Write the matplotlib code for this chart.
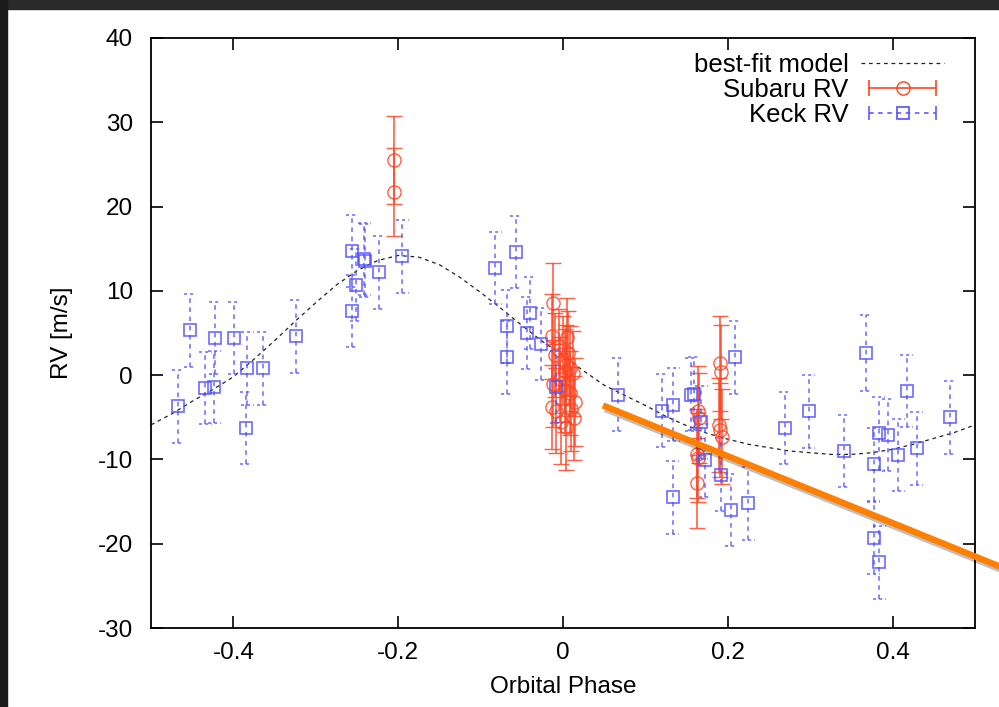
import matplotlib
matplotlib.use("Agg")
import matplotlib.pyplot as plt
import matplotlib.patheffects as pe
from matplotlib.lines import Line2D
from matplotlib.legend_handler import HandlerLine2D
from matplotlib.patches import Rectangle

plt.rcParams['font.family'] = ['Liberation Sans', 'DejaVu Sans']

# best-fit model
model_phase = [-0.500, -0.475, -0.450, -0.425, -0.400, -0.375, -0.350, -0.325,
               -0.300, -0.275, -0.250, -0.225, -0.200, -0.175, -0.150, -0.125,
               -0.100, -0.075, -0.050, -0.025, 0.000, 0.025, 0.050, 0.075,
               0.100, 0.125, 0.150, 0.175, 0.200, 0.225, 0.250, 0.275,
               0.300, 0.325, 0.350, 0.375, 0.400, 0.425, 0.450, 0.475, 0.500]
model_rv = [-5.9, -4.6, -3.1, -1.7, -0.2, 1.9, 4.1, 6.4,
            8.6, 10.7, 12.4, 13.6, 14.2, 14.0, 13.1, 11.6,
            9.8, 7.9, 5.9, 4.0, 2.3, 0.5, -1.2, -2.4,
            -3.6, -4.9, -6.0, -6.9, -7.6, -8.2, -8.6, -9.0,
            -9.2, -9.4, -9.4, -9.2, -8.8, -8.2, -7.5, -6.8, -5.9]

# Subaru RV
subaru_phase = [-0.205, -0.205,
                -0.012, -0.013, -0.010, -0.012, -0.013, -0.008, -0.005, -0.004,
                -0.003, 0.000, 0.002, 0.002, 0.004, 0.005, 0.006, 0.008,
                0.009, 0.010, 0.012, 0.013, 0.015, 0.004,
                0.164, 0.165, 0.163, 0.164, 0.163,
                0.190, 0.192, 0.189, 0.191, 0.193]
subaru_rv = [25.5, 21.7,
             8.5, 4.6, 2.4, -1.0, -3.8, -4.2, 3.0, -0.5,
             -5.6, 1.8, 0.5, -1.8, -6.2, 4.5, 2.6, 0.8,
             -2.1, -4.0, 0.2, -5.1, -3.2, 1.2,
             -4.2, -5.1, -9.3, -9.8, -12.8,
             1.4, 0.4, -5.9, -6.5, -7.3]
subaru_err = [5.2, 5.2,
              4.8, 5.0, 5.0, 5.2, 5.0, 5.0, 4.9, 5.0,
              5.0, 5.2, 5.0, 5.0, 5.0, 4.6, 5.0, 5.0,
              5.0, 5.0, 5.0, 5.0, 5.2, 4.8,
              5.3, 5.3, 5.3, 5.3, 5.3,
              5.6, 5.6, 5.6, 5.6, 5.6]

# Keck RV
keck_phase = [-0.467, -0.453, -0.434, -0.423, -0.422, -0.399, -0.385, -0.383,
              -0.364, -0.324, -0.256, -0.251, -0.256, -0.241, -0.240, -0.223,
              -0.195, -0.082, -0.068, -0.068, -0.057, -0.044, -0.040, -0.027,
              -0.008, 0.067, 0.120, 0.134, 0.133, 0.155, 0.159, 0.168,
              0.172, 0.192, 0.204, 0.209, 0.225, 0.269, 0.298, 0.341,
              0.368, 0.377, 0.383, 0.394, 0.407, 0.417, 0.429, 0.470,
              0.377, 0.384]
keck_rv = [-3.7, 5.3, -1.5, -1.4, 4.4, 4.4, -6.3, 0.8,
           0.8, 4.6, 14.7, 10.7, 7.6, 13.8, 13.6, 12.2,
           14.1, 12.7, 5.8, 2.1, 14.6, 5.0, 7.4, 3.7,
           -1.4, -2.3, -4.2, -3.5, -14.5, -2.3, -2.2, -5.6,
           -10.1, -11.8, -16.0, 2.1, -15.2, -6.3, -4.3, -9.0,
           2.6, -10.6, -6.9, -7.1, -9.5, -1.9, -8.7, -5.0,
           -19.3, -22.2]
keck_err = [4.3, 4.3, 4.3, 4.3, 4.3, 4.3, 4.3, 4.3,
            4.3, 4.3, 4.3, 4.3, 4.3, 4.3, 4.3, 4.3,
            4.3, 4.3, 4.3, 4.3, 4.3, 4.3, 4.3, 4.3,
            4.3, 4.3, 4.3, 4.3, 4.3, 4.3, 4.3, 4.3,
            4.3, 4.3, 4.3, 4.3, 4.3, 4.3, 4.3, 4.3,
            4.5, 4.3, 4.3, 4.3, 4.3, 4.3, 4.3, 4.3,
            4.3, 4.3]

# orange highlight stroke drawn over the screenshot
stroke_phase = [0.0485, 0.535]
stroke_rv = [-3.6, -22.9]

red = '#ff4422'
blue = '#5050ff'
dash = (0, (3, 3))
fs = 17.5

fig = plt.figure(figsize=(9.99, 7.07), dpi=100)
ax = fig.add_axes([0.1512, 0.1117, 0.8248, 0.8346])

ax.plot(model_phase, model_rv, color='#222222', lw=0.9, ls=dash, zorder=2)

ax.errorbar(subaru_phase, subaru_rv, yerr=subaru_err, fmt='o', ms=9.5,
            mfc='none', mec=red, mew=1.0, ecolor=red, elinewidth=1.2,
            capsize=6, capthick=1.0, alpha=0.85, zorder=3)

kb = ax.errorbar(keck_phase, keck_rv, yerr=keck_err, fmt='s', ms=8.8,
                 mfc='none', mec=blue, mew=1.2, ecolor=blue, elinewidth=1.1,
                 alpha=0.85, zorder=4)
kb[2][0].set_linestyle(dash)
cap_hw = 0.0075
for x, y, e in zip(keck_phase, keck_rv, keck_err):
    ax.hlines([y - e, y + e], x - cap_hw, x + cap_hw, colors=blue,
              linestyles=(0, (2, 2)), lw=1.1, alpha=0.85, zorder=4)

ax.plot(stroke_phase, stroke_rv, color='#ff8000', lw=4.6, clip_on=False,
        solid_capstyle='butt', zorder=10,
        path_effects=[pe.SimpleLineShadow(offset=(1.5, -2.5), shadow_color='k',
                                          alpha=0.25),
                      pe.Normal()])

ax.set_xlim(-0.5, 0.5)
ax.set_ylim(-30, 40)
ax.set_xticks([-0.4, -0.2, 0, 0.2, 0.4])
ax.set_xticklabels(['-0.4', '-0.2', '0', '0.2', '0.4'])
ax.set_yticks(range(-30, 41, 10))
ax.set_yticklabels([str(v) for v in range(-30, 41, 10)])
ax.tick_params(direction='in', length=8.5, width=1.2, top=True, right=True,
               labelsize=fs)
ax.tick_params(axis='x', pad=10)
ax.tick_params(axis='y', pad=13)
for s in ax.spines.values():
    s.set_linewidth(1.3)
ax.set_xlabel('Orbital Phase', fontsize=fs, labelpad=9)
ax.set_ylabel('RV [m/s]', fontsize=fs, labelpad=18)

# legend in gnuplot style: label first, sample on the right
h_model = Line2D([], [], color='#222222', lw=0.9, ls=dash)
s_line = Line2D([], [], color=red, lw=1.2, marker='|', ms=12, mew=1.2)
s_mark = Line2D([], [], ls='none', marker='o', ms=9.5, mfc='none', mec=red, mew=1.0)
k_line = Line2D([], [], color=blue, lw=1.1, ls=dash, marker='|', ms=10, mew=1.1)
k_mark = Line2D([], [], ls='none', marker='s', ms=8.8, mfc='none', mec=blue, mew=1.2)
ax.legend([h_model, (s_line, s_mark), (k_line, k_mark)],
          ['best-fit model', 'Subaru RV', 'Keck RV'],
          handler_map={s_line: HandlerLine2D(numpoints=2),
                       k_line: HandlerLine2D(numpoints=2),
                       s_mark: HandlerLine2D(numpoints=1),
                       k_mark: HandlerLine2D(numpoints=1)},
          loc='upper right', bbox_to_anchor=(0.962, 0.975), frameon=False,
          markerfirst=False, alignment='right', fontsize=18.5,
          handlelength=3.2, handletextpad=0.5, labelspacing=0.04,
          borderpad=0, borderaxespad=0)

# screenshot frame
fig.patches.append(Rectangle((0, 1 - 9 / 707), 1, 9 / 707, transform=fig.transFigure,
                             color='#2a2a2a', zorder=20))
fig.patches.append(Rectangle((0, 0), 7 / 999, 1, transform=fig.transFigure,
                             color='#1c1c1c', zorder=20))

fig.savefig('out.png', dpi=100)
